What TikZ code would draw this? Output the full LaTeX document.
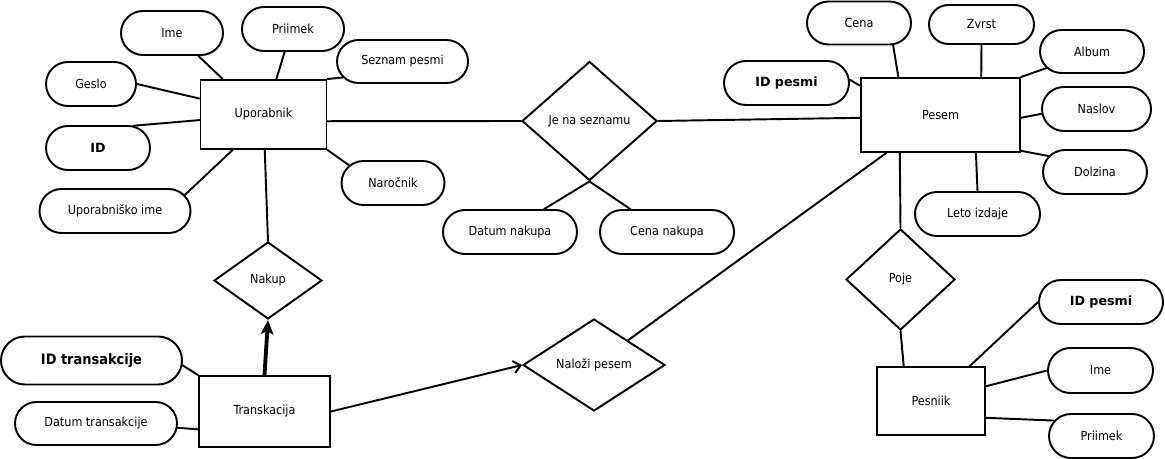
\documentclass[tikz,border=0pt]{standalone}
\usepackage{fontspec}
\setmainfont{DejaVu Sans Condensed}
\newfontfamily\widefont{DejaVu Sans}
\usetikzlibrary{shapes.geometric,shapes.misc,arrows.meta}

\begin{document}
\begin{tikzpicture}[x=0.02cm, y=-0.02cm, line width=1.1pt, line cap=round,
	dims/.style 2 args={minimum width=#1*0.02cm, minimum height=#2*0.02cm},
	entity/.style={draw, rectangle, inner sep=0pt, font=\fontsize{7.1}{8}\selectfont},
	attr/.style={draw, rounded rectangle, inner sep=0pt, font=\fontsize{7.1}{8}\selectfont},
	keyattr/.style={attr, font=\widefont\fontsize{7.2}{8}\selectfont\bfseries},
	rel/.style={draw, diamond, aspect=1, inner sep=0pt, font=\fontsize{7.1}{8}\selectfont}]
		
		\useasboundingbox (0,0) rectangle (1165,459);
		
		% Entities
		\node[entity, dims={126}{69}] (upo) at (263.5,114.5) {Uporabnik};
		\node[entity, dims={159}{74}] (pes) at (940.5,115) {Pesem};
		\node[entity, dims={131}{71}] (trans) at (264.5,411.5) {Transkacija};
		\node[entity, dims={108}{68}] (pesn) at (931,401) {Pesniik};
		
		% Relations
		\node[rel, dims={135}{119}] (jns) at (589.5,121) {Je na seznamu};
		\node[rel, dims={108}{77}] (nakup) at (268,280.5) {Nakup};
		\node[rel, dims={142}{92}] (nal) at (594,365) {Naloži pesem};
		\node[rel, dims={109}{101}] (poje) at (900.5,279.5) {Poje};
		
		% Attributes
		\node[attr, dims={102}{44}] (ime1) at (172,33) {Ime};
		\node[attr, dims={102}{44}] (prii1) at (293,29) {Priimek};
		\node[attr, dims={131}{43}] (sez) at (402.5,61.5) {Seznam pesmi};
		\node[attr, dims={90}{44}] (geslo) at (91,84) {Geslo};
		\node[keyattr, dims={104}{44}] (id) at (98,148) {ID};
		\node[attr, dims={151}{44}] (uime) at (115,211) {Uporabniško ime};
		\node[attr, dims={103}{44}] (naro) at (393,183) {Naročnik};
		%
		\node[attr, dims={134}{44}] (dnak) at (510,232) {Datum nakupa};
		\node[attr, dims={134}{44}] (cnak) at (667,232) {Cena nakupa};
		%
		\node[keyattr, dims={181}{48}, font=\fontsize{8.2}{9}\selectfont\bfseries] (idt) at (91.5,360.5) {ID transakcije};
		\node[attr, dims={162}{43}] (dtr) at (96,423.5) {Datum transakcije};
		%
		\node[attr, dims={104}{43}] (cena) at (859,23) {Cena};
		\node[attr, dims={105}{39}] (zvrst) at (981.5,24.5) {Zvrst};
		\node[attr, dims={104}{43}] (album) at (1092,51.5) {Album};
		\node[keyattr, dims={125}{44}] (idp) at (786.5,83) {ID pesmi};
		\node[attr, dims={109}{44}] (naslov) at (1096.5,109) {Naslov};
		\node[attr, dims={104}{44}] (dolz) at (1095,172) {Dolzina};
		\node[attr, dims={125}{44}] (leto) at (977.5,214) {Leto izdaje};
		%
		\node[keyattr, dims={124}{44}] (idp2) at (1101,302) {ID pesmi};
		\node[attr, dims={105}{45}] (ime2) at (1100.5,370.5) {Ime};
		\node[attr, dims={105}{44}] (prii2) at (1101.5,436) {Priimek};
		
		% Lines
		\draw (ime1.-41) -- (upo.139);
		\draw (prii1.-110) -- (upo.70);
		\draw (sez.195) -- (upo.north east);
		\draw (geslo.east) -- (upo.166);
		\draw (id.32) -- (upo.185);
		\draw (uime.13) -- (upo.-131);
		\draw (naro.158) -- (upo.south east);
		\draw (upo.-6) -- (jns.west);
		\draw (upo.-88) -- (nakup.north);
		%
		\draw (jns.east) -- (pes.182);
		\draw (jns.south) -- (dnak.34);
		\draw (jns.south) -- (cnak.148);
		%
		\draw (idt.-3) -- (trans.north west);
		\draw (dtr.-3) -- (trans.195);
		\draw (nal.36) -- (pes.-145);
		%
		\draw (cena.-33) -- (pes.138);
		\draw (zvrst.south) -- (pes.43);
		\draw (album.200) -- (pes.north east);
		\draw (idp.3) -- (pes.160);
		\draw (naslov.185) -- (pes.-2);
		\draw (dolz.161) -- (pes.-24);
		\draw (leto.north) -- (pes.-47);
		\draw (pes.-137) -- (poje.north);
		%
		\draw (poje.south) -- (pesn.128);
		\draw (idp2.west) -- (pesn.42);
		\draw (ime2.west) -- (pesn.15);
		\draw (prii2.162) -- (pesn.-17);
		
		% Arrows
		\draw[line width=2.2pt, -{Stealth[length=8pt, width=7pt, inset=1.5pt]}] (trans.north) -- (nakup.south);
		\draw[-{Straight Barb[length=4pt, width=7pt]}] (trans.east) -- (nal.west);
	\end{tikzpicture}
\end{document}
